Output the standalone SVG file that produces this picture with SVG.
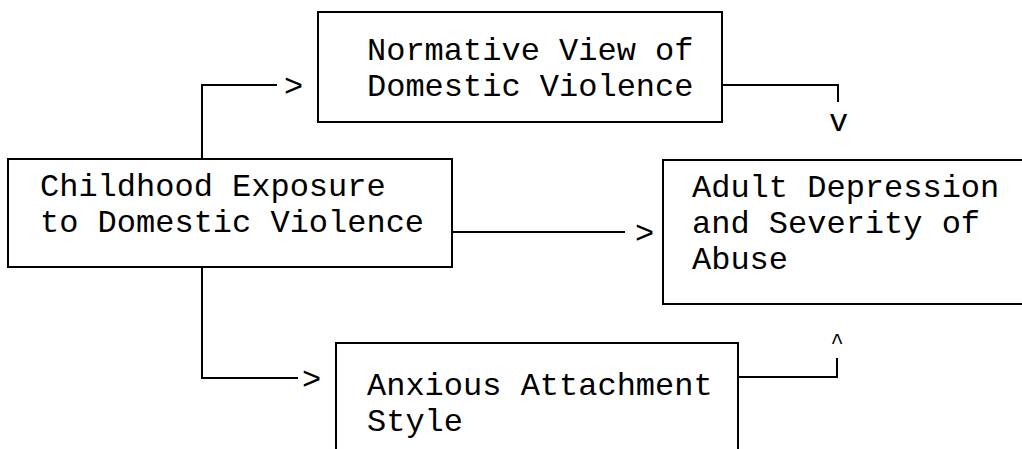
<svg xmlns="http://www.w3.org/2000/svg" width="1022" height="449" viewBox="0 0 1022 449">
<style>
.box{fill:#fff;stroke:#000;stroke-width:2}
.t{font-family:"Liberation Mono","Courier New",monospace;font-size:32px;fill:#000}
.c{fill:none;stroke:#000;stroke-width:2}
.caret{font-family:"Liberation Mono","Courier New",monospace;font-size:22px;fill:#000;text-anchor:middle}
</style>
<rect width="1022" height="449" fill="#fff"/>
<g id="connectors">
<polyline class="c" points="202,159 202,85 277,85"/>
<polyline class="c" points="202,267 202,378 298,378"/>
<line class="c" x1="452" y1="232" x2="625" y2="232"/>
<polyline class="c" points="722,85 838,85 838,102"/>
<polyline class="c" points="738,377 837,377 837,358"/>
<text class="t" x="284" y="96">&gt;</text>
<text class="t" x="302" y="389">&gt;</text>
<text class="t" x="635" y="243">&gt;</text>
<text class="t" x="829" y="131">v</text>
<text class="caret" x="837" y="349">^</text>
</g>
<g id="node-childhood">
<rect class="box" x="8" y="159" width="444" height="108"/>
<text class="t" x="40" y="196">Childhood Exposure</text>
<text class="t" x="40" y="232">to Domestic Violence</text>
</g>
<g id="node-normative">
<rect class="box" x="318" y="12" width="404" height="110"/>
<text class="t" x="367" y="60">Normative View of</text>
<text class="t" x="367" y="96">Domestic Violence</text>
</g>
<g id="node-adult">
<rect class="box" x="663" y="160" width="380" height="144"/>
<text class="t" x="692" y="197">Adult Depression</text>
<text class="t" x="692" y="233">and Severity of</text>
<text class="t" x="692" y="269">Abuse</text>
</g>
<g id="node-anxious">
<rect class="box" x="336" y="343" width="402" height="120"/>
<text class="t" x="367" y="395">Anxious Attachment</text>
<text class="t" x="367" y="431">Style</text>
</g>
</svg>
